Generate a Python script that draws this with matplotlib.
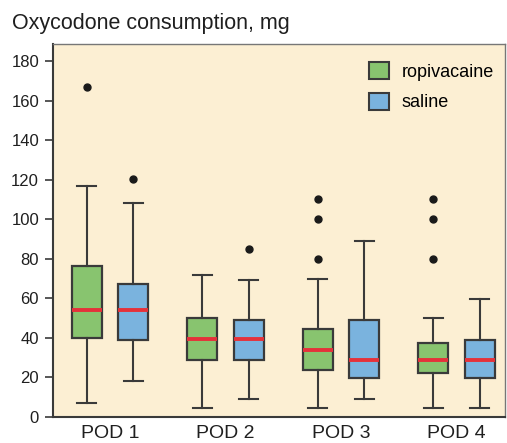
import matplotlib
matplotlib.use("Agg")
import matplotlib.pyplot as plt
from matplotlib.patches import Patch

plt.rcParams['font.family'] = ['Liberation Sans', 'DejaVu Sans']

days = ['POD 1', 'POD 2', 'POD 3', 'POD 4']

# ropivacaine (green)
ropi_lo = [7, 4.5, 4.5, 4.5]
ropi_q1 = [40, 29, 24, 22]
ropi_med = [54, 39.5, 34, 29]
ropi_q3 = [76.5, 50, 44.5, 37.5]
ropi_hi = [117, 72, 70, 50]
ropi_out = [[167], [], [80, 100, 110], [80, 100, 110]]

# saline (blue)
sal_lo = [18, 9, 9, 4.5]
sal_q1 = [39, 29, 19.5, 19.5]
sal_med = [54, 39.5, 29, 29]
sal_q3 = [67, 49, 49, 39]
sal_hi = [108, 69.5, 89, 59.5]
sal_out = [[120.5], [85], [], []]


def stats(lo, q1, med, q3, hi, out):
    return [dict(whislo=a, q1=b, med=c, q3=d, whishi=e, fliers=f)
            for a, b, c, d, e, f in zip(lo, q1, med, q3, hi, out)]


green = '#88c46f'
blue = '#7ab3de'
edge = '#3a3a3a'
bg = '#fcefd3'
txt = '#1f1f1f'

fig = plt.figure(figsize=(5.07, 4.43), dpi=100)
ax = fig.add_axes([53 / 507, 26 / 443, 452 / 507, 373 / 443])
ax.set_facecolor(bg)

pos = [1, 2, 3, 4]
off = 0.2
w = 0.26
for data, color, sign in [(stats(ropi_lo, ropi_q1, ropi_med, ropi_q3, ropi_hi, ropi_out), green, -1),
                          (stats(sal_lo, sal_q1, sal_med, sal_q3, sal_hi, sal_out), blue, 1)]:
    ax.bxp(data, positions=[p + sign * off for p in pos], widths=w,
           capwidths=0.165, patch_artist=True, showfliers=True,
           boxprops=dict(facecolor=color, edgecolor=edge, linewidth=1.6),
           whiskerprops=dict(color=edge, linewidth=1.5),
           capprops=dict(color=edge, linewidth=1.5),
           medianprops=dict(color='#e5313a', linewidth=2.8),
           flierprops=dict(marker='o', markerfacecolor='#1a1a1a',
                           markeredgecolor='#1a1a1a', markersize=5))

ax.set_xlim(0.507, 4.42)
ax.set_ylim(0, 188.6)
ax.set_yticks(range(0, 181, 20))
ax.set_xticks(pos)
ax.set_xticklabels(days, fontsize=14, color=txt)
ax.tick_params(axis='x', length=0, pad=5.5)
ax.tick_params(axis='y', length=6, width=1.2, color=edge, labelsize=12,
               labelcolor=txt, pad=4)

for s in ['left', 'bottom']:
    ax.spines[s].set_color(edge)
    ax.spines[s].set_linewidth(1.5)
for s in ['top', 'right']:
    ax.spines[s].set_color('#777777')
    ax.spines[s].set_linewidth(1.0)

handles = [Patch(facecolor=green, edgecolor=edge, linewidth=1.5, label='ropivacaine'),
           Patch(facecolor=blue, edgecolor=edge, linewidth=1.5, label='saline')]
ax.legend(handles=handles, loc='upper right', frameon=False, fontsize=13,
          handlelength=1.1, handleheight=1.1, handletextpad=0.7,
          labelspacing=0.65, borderaxespad=0, borderpad=0,
          bbox_to_anchor=(1 - 11 / 452, 1 - 18 / 373))

fig.text(12 / 507, 1 - 29 / 443, 'Oxycodone consumption, mg', fontsize=15.5,
         color=txt, va='baseline', ha='left')

fig.savefig('out.png', dpi=100)
